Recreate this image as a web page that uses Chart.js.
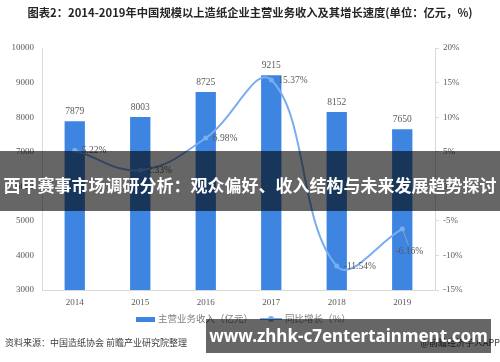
<!DOCTYPE html>
<html>
<head>
<meta charset="utf-8">
<script src="https://cdn.jsdelivr.net/npm/chart.js@4.4.1/dist/chart.umd.min.js"></script>
<style>
  body { margin:0; background:#fff; }
  #wrap { position:relative; width:500px; height:362px; overflow:hidden; font-family:"Noto Sans CJK SC", sans-serif; }
  #chart { position:absolute; left:0; top:0; }
  .title { position:absolute; left:0; width:500px; top:4px; text-align:center; font-size:11.3px; font-weight:bold; color:#262626; }
  .legend { position:absolute; top:311px; left:0; width:500px; font-size:9.5px; color:#7f7f7f; }
  .legend span { position:absolute; top:0; white-space:nowrap; }
  .swatch-bar { position:absolute; left:136px; top:317px; width:19px; height:5px; background:#3d85e0; }
  .swatch-line { position:absolute; left:260px; top:318px; width:22px; height:2px; background:#78aef0; }
  .swatch-dot { position:absolute; left:268px; top:316px; width:6px; height:6px; border-radius:50%; background:#78aef0; }
  .source { position:absolute; left:5px; top:336px; font-size:9px; color:#404040; }
  .app { position:absolute; right:0; top:336px; font-size:9px; color:#404040; }
  .band { position:absolute; left:0; top:151px; width:500px; height:60px; background:rgba(0,0,0,0.6); }
  .band-text { position:absolute; left:0; width:500px; top:172px; text-align:center; font-size:17px; font-weight:bold; color:#fff; white-space:nowrap; }
  .url { position:absolute; left:206px; top:319px; width:285px; height:34px; background:rgba(0,0,0,0.6); color:#fff;
         font-family:"Noto Sans", sans-serif; font-weight:bold; font-size:17px; line-height:34px; text-align:center; }
</style>
</head>
<body>
<div id="wrap">
  <canvas id="chart" width="500" height="362"></canvas>
  <div class="title">图表2：2014-2019年中国规模以上造纸企业主营业务收入及其增长速度(单位：亿元，%)</div>
  <div class="swatch-bar"></div>
  <div class="swatch-line"></div><div class="swatch-dot"></div>
  <div class="legend"><span style="left:158px">主营业务收入（亿元）</span><span style="left:285px">同比增长（%）</span></div>
  <div class="source">资料来源：中国造纸协会 前瞻产业研究院整理</div>
  <div class="app">@前瞻经济学人APP</div>
  <div class="band"></div>
  <div class="band-text">西甲赛事市场调研分析：观众偏好、收入结构与未来发展趋势探讨</div>
  <div class="url">www.zhhk-c7entertainment.com</div>
</div>
<script>
const years   = ['2014','2015','2016','2017','2018','2019'];
const revenue = [7879, 8003, 8725, 9215, 8152, 7650];
const growth  = [5.22, 2.33, 6.98, 15.37, -11.54, -6.16];

const BAR_BLUE  = '#3d85e0';
const LINE_BLUE = '#78aef0';
const AXIS_GREY = '#d9d9d9';
const TEXT_GREY = '#595959';
const serif9 = { family:'"Liberation Serif", serif', size:9 };

// draws the numbers next to bars and line points
const valueLabels = {
  id: 'valueLabels',
  afterDatasetsDraw(chart) {
    const ctx = chart.ctx;
    ctx.save();
    ctx.font = '9.5px "Liberation Serif", serif';
    ctx.fillStyle = TEXT_GREY;

    chart.getDatasetMeta(1).data.forEach((bar, i) => {
      ctx.textAlign = 'center';
      ctx.textBaseline = 'bottom';
      ctx.fillText(revenue[i], bar.x, bar.y - 5);
    });

    chart.getDatasetMeta(0).data.forEach((pt, i) => {
      const txt = growth[i].toFixed(2) + '%';
      if (i === growth.length - 1) {
        // last label hangs below with a small leader line
        ctx.strokeStyle = '#a6a6a6';
        ctx.lineWidth = 0.8;
        ctx.beginPath();
        ctx.moveTo(pt.x + 1, pt.y + 2);
        ctx.lineTo(pt.x + 6, pt.y + 16);
        ctx.stroke();
        ctx.textAlign = 'center';
        ctx.textBaseline = 'middle';
        ctx.fillText(txt, pt.x + 7, pt.y + 23);
      } else {
        ctx.textAlign = 'left';
        ctx.textBaseline = 'middle';
        ctx.fillText(txt, pt.x + 7, pt.y);
      }
    });
    ctx.restore();
  }
};

new Chart(document.getElementById('chart').getContext('2d'), {
  type: 'bar',
  data: {
    labels: years,
    datasets: [{
      type: 'line',
      label: '同比增长（%）',
      data: growth,
      yAxisID: 'y1',
      borderColor: LINE_BLUE,
      backgroundColor: LINE_BLUE,
      borderWidth: 2,
      tension: 0.4,
      pointRadius: 2.5,
      pointBorderWidth: 0,
      pointBackgroundColor: LINE_BLUE,
      order: 0
    }, {
      type: 'bar',
      label: '主营业务收入（亿元）',
      data: revenue,
      yAxisID: 'y',
      backgroundColor: BAR_BLUE,
      barPercentage: 0.31,
      categoryPercentage: 1,
      order: 1
    }]
  },
  options: {
    responsive: false,
    animation: false,
    layout: { padding: { top: 48, right: 20, left: 0, bottom: 0 } },
    plugins: { legend: { display: false }, tooltip: { enabled: false } },
    scales: {
      x: {
        grid: { display: false, drawTicks: false },
        border: { display: true, color: AXIS_GREY },
        ticks: { font: serif9, color: TEXT_GREY, padding: 7 },
        afterFit: s => { s.height = 72; }
      },
      y: {
        position: 'left',
        min: 3000, max: 10000,
        grid: { display: false, drawTicks: false },
        border: { display: true, color: AXIS_GREY },
        ticks: { stepSize: 1000, font: serif9, color: TEXT_GREY, padding: 8, callback: v => String(v) },
        afterFit: s => { s.width = 42; }
      },
      y1: {
        position: 'right',
        min: -15, max: 20,
        grid: { drawOnChartArea: false, color: AXIS_GREY, tickLength: 4 },
        border: { display: true, color: AXIS_GREY },
        ticks: { stepSize: 5, font: serif9, color: TEXT_GREY, padding: 4, callback: v => v + '%' },
        afterFit: s => { s.width = 45; }
      }
    }
  },
  plugins: [valueLabels]
});
</script>
</body>
</html>
